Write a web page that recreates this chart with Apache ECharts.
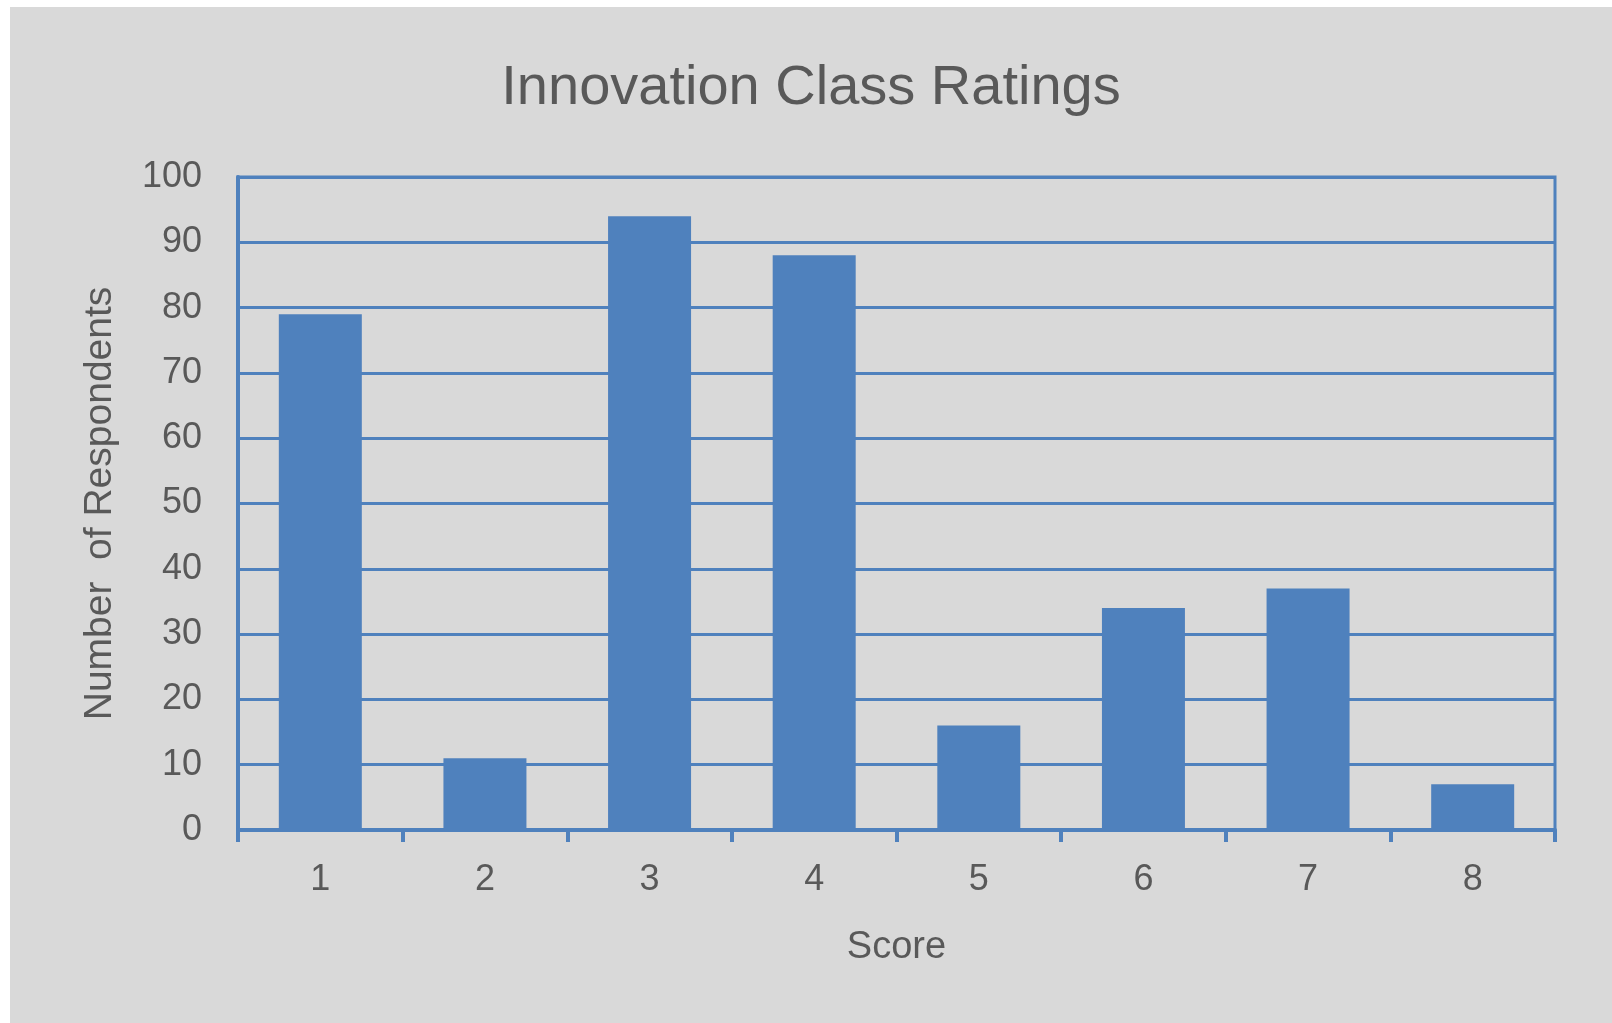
<!DOCTYPE html>
<html>
<head>
<meta charset="utf-8">
<script src="https://cdn.jsdelivr.net/npm/echarts@6/dist/echarts.min.js"></script>
<style>
  html, body { margin: 0; padding: 0; background: #ffffff; }
  #chart { position: absolute; left: 10px; top: 7px; width: 1602px; height: 1016px; background: #d9d9d9; }
</style>
</head>
<body>
<div id="chart"></div>
<script>
// scores on the x axis
var scores = ['1', '2', '3', '4', '5', '6', '7', '8'];
// number of respondents per score
var respondents = [79, 11, 94, 88, 16, 34, 37, 7];
// y axis range
var yMin = 0;
var yMax = 100;
var yStep = 10;

var blue = '#4f81bd';
var textColor = '#595959';
var font = "'Liberation Sans', Arial, sans-serif";

var chart = echarts.init(document.getElementById('chart'));

var option = {
    backgroundColor: '#d9d9d9',
    title: {
        text: 'Innovation Class Ratings',
        left: 'center',
        top: 49,
        textStyle: { color: textColor, fontFamily: font, fontWeight: 'normal', fontSize: 56 }
    },
    grid: {
        left: 228,
        right: 57,
        top: 170,
        bottom: 193,
        show: true,
        borderColor: blue,
        borderWidth: 3,
        backgroundColor: 'transparent'
    },
    xAxis: {
        type: 'category',
        data: scores,
        name: 'Score',
        nameLocation: 'middle',
        nameGap: 99,
        nameTextStyle: { color: textColor, fontFamily: font, fontSize: 38 },
        axisLine: { lineStyle: { color: blue, width: 4 } },
        axisTick: { show: true, length: 12, lineStyle: { color: blue, width: 4 } },
        axisLabel: { color: textColor, fontFamily: font, fontSize: 36, margin: 32 }
    },
    yAxis: {
        type: 'value',
        min: yMin,
        max: yMax,
        interval: yStep,
        name: 'Number  of Respondents',
        nameLocation: 'middle',
        nameGap: 118,
        nameRotate: 90,
        nameTextStyle: { color: textColor, fontFamily: font, fontSize: 39 },
        axisLine: { show: true, lineStyle: { color: blue, width: 4 } },
        axisTick: { show: false },
        axisLabel: { color: textColor, fontFamily: font, fontSize: 36, margin: 36 },
        splitLine: { lineStyle: { color: blue, width: 3 } }
    },
    series: [{
        type: 'bar',
        data: respondents,
        barWidth: 83,
        itemStyle: { color: blue }
    }]
};

chart.setOption(option);
</script>
</body>
</html>
